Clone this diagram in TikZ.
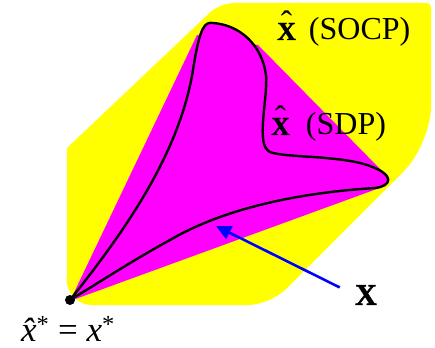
\documentclass[tikz,border=0pt]{standalone}
\usepackage{fontspec}
\setmainfont{Liberation Serif}
\newfontfamily\heavyserif{Liberation Serif}[UprightFont={* Bold}, FakeBold=1.6]
\usetikzlibrary{arrows.meta, positioning}
\definecolor{socpyellow}{RGB}{255,255,0}
\definecolor{sdpmagenta}{RGB}{255,0,255}
\definecolor{pointblue}{RGB}{0,0,255}
\newcommand{\hatsetX}{{\fontsize{26}{26}\selectfont\ooalign{{\heavyserif X}\cr\hidewidth\raisebox{5pt}{\fontsize{34}{34}\selectfont ˆ}\hidewidth\cr}}}

\begin{document}
\begin{tikzpicture}[
    x=1pt, y=-1pt,
    every node/.style={inner sep=0pt, font=\fontsize{32}{36}\selectfont},
    socpregion/.style={fill=socpyellow},
    sdphull/.style={fill=sdpmagenta},
    sdpcurve/.style={draw=black, fill=sdpmagenta, line width=2.4pt, line join=round},
    optdot/.style={circle, fill=black, minimum size=10pt},
    setlabel/.style={anchor=base west},
    bigx/.style={font=\fontsize{30}{30}\selectfont\heavyserif},
    pointer/.style={-{Triangle[length=15pt, width=14pt]}, line width=2.6pt, pointblue, shorten <=17pt}
]
\useasboundingbox (0,0) rectangle (435,347);

\fill[socpregion] (67,305) -- (67,148) [rounded corners=14pt] -- (220,3) [rounded corners=4pt] -- (431,3) [rounded corners=38pt] -- (431,144) [rounded corners=22pt] -- (270,305) [rounded corners=25pt] -- (67,305) [sharp corners] -- cycle;

\fill[sdphull] (70,301) -- (197,35) -- (258,45) -- (383,172) -- (385,186) -- cycle;

\filldraw[sdpcurve] (70,300) .. controls (130,225) and (180,150) .. (193,70)
    .. controls (200,25) and (205,22) .. (213,23)
    .. controls (240,25) and (262,45) .. (266,75)
    .. controls (268,100) and (255,145) .. (270,152)
    .. controls (285,158) and (340,155) .. (370,166)
    .. controls (395,175) and (392,186) .. (375,188)
    .. controls (310,192) and (230,205) .. (170,240)
    .. controls (130,262) and (100,282) .. (70,300) -- cycle;

\node[optdot] (xstar) at (70,300) {};
\node[below=11pt of xstar, xshift=-2pt, font=\fontsize{35}{38}\selectfont] (xstarlab) {{\itshape\^{x}}\textsuperscript{*} = {\itshape x}\textsuperscript{*}};

\node[setlabel] (socplab) at (277,40) {\hatsetX\hspace{5pt} (SOCP)};
\node[setlabel] (sdplab) at (271,135) {\hatsetX\hspace{8pt} (SDP)};

\node[bigx] (xlab) at (366,295) {X};
\coordinate (xtip) at (216,226);
\draw[pointer] (xlab.west) -- (xtip);

\end{tikzpicture}
\end{document}
